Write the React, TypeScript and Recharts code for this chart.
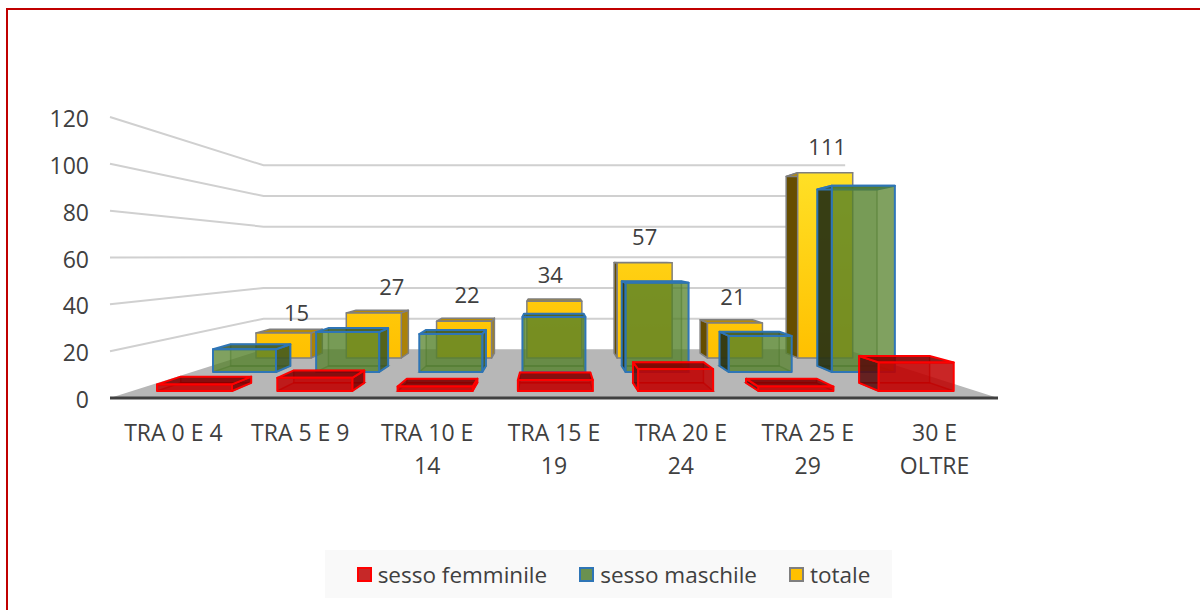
import { BarChart, Bar, XAxis, YAxis, CartesianGrid, LabelList, Legend } from 'recharts'

const categories = ['TRA 0 E 4', 'TRA 5 E 9', 'TRA 10 E 14', 'TRA 15 E 19', 'TRA 20 E 24', 'TRA 25 E 29', '30 E OLTRE']
const femminile = [3, 6, 2, 5, 10, 2, 13]
const maschile = [12, 21, 20, 29, 47, 19, 98]
const totale = [15, 27, 22, 34, 57, 21, 111]
const yTicks = [0, 20, 40, 60, 80, 100, 120]

const chartData = categories.map((name, i) => ({
  name,
  femminile: femminile[i],
  maschile: maschile[i],
  totale: totale[i],
}))

// fake 3D: everything shrinks towards one vanishing point
const VX = 552
const VY = 255
const LEFT = 110
const RIGHT = 998
const TOP = 117
const BOTTOM = 398
const BAR_DEPTH = { red: 0.94, green: 0.948, yellow: 0.953 }
const TEXT = '#404040'
const FONT = '"Open Sans", sans-serif'
const LEGEND_H = 48
const AXIS_SERIES = 'axis'

const project = (x: number, y: number, r: number) => [VX + (x - VX) * r, VY + (y - VY) * r]
// the back wall sits a little off the bars' vanishing point
const projectWall = (x: number, y: number) => [555 + (x - 555) * 0.655, 257 + (y - 257) * 0.655]
const pts = (list: number[][]) => list.map((p) => p.join(',')).join(' ')

// domain that puts value 0 on "base" with the given px per unit
const rowDomain = (base: number, scale: number) => [(base - BOTTOM) / scale, (base - TOP) / scale]

const labelNudgeX = [13, 18, 3, -4, 0, -2, 2]
const labelNudgeY = [6, 0, 0, 0, 0, 0, 0]

const Box = (props: any) => {
  const { x, y, width, height, look, depth } = props
  const x2 = x + width
  const y2 = y + height
  const tl = [x, y]
  const tr = [x2, y]
  const br = [x2, y2]
  const bl = [x, y2]
  const btl = project(x, y, depth)
  const btr = project(x2, y, depth)
  const bbr = project(x2, y2, depth)
  const bbl = project(x, y2, depth)
  const s = { stroke: look.stroke, strokeWidth: look.width, strokeLinejoin: 'round' as const }
  return (
    <g>
      {look.back && <polygon points={pts([btl, btr, bbr, bbl])} fill={look.back} stroke={look.inner} strokeWidth={1.5} />}
      {look.back && <polygon points={pts([bl, br, bbr, bbl])} fill={look.back} stroke={look.inner} strokeWidth={1.5} />}
      {x2 < VX && <polygon points={pts([tr, btr, bbr, br])} fill={look.right} {...s} />}
      {x > VX && <polygon points={pts([tl, btl, bbl, bl])} fill={look.left} {...s} />}
      <polygon points={pts([tl, tr, btr, btl])} fill={look.top} {...s} />
      <polygon points={pts([tl, tr, br, bl])} fill={look.front} {...s} />
    </g>
  )
}

const yellowLook = {
  front: 'url(#yellowFace)', top: '#b58a08', right: '#ab8208', left: '#664d00',
  stroke: '#7f7f7f', width: 1.5,
}
const greenLook = {
  front: 'rgba(84,128,40,0.74)', back: 'rgba(84,130,53,0.2)', inner: 'rgba(60,100,60,0.5)',
  top: 'rgba(50,85,45,0.85)', right: 'rgba(60,85,30,0.85)', left: 'rgba(40,50,20,0.92)',
  stroke: '#2e75b6', width: 2,
}
const redLook = {
  front: 'rgba(192,0,0,0.85)', back: 'rgba(192,0,0,0.3)', inner: 'rgba(200,0,0,0.7)',
  top: 'rgba(125,0,0,0.88)', right: 'rgba(125,0,0,0.88)', left: 'rgba(80,10,10,0.8)',
  stroke: '#ff0000', width: 2,
}

const WallLine = (props: any) => {
  const y = props.y1
  const [bx, by] = projectWall(LEFT, y)
  const [ex] = projectWall(RIGHT, y)
  const isBase = y >= BOTTOM - 1
  if (isBase) {
    return <polygon points={pts([[LEFT, BOTTOM], [bx, by], [ex, by], [RIGHT, BOTTOM]])} fill="#b7b7b7" />
  }
  return <polyline points={pts([[LEFT, y], [bx, by], [ex, by]])} fill="none" stroke="#d0d0d0" strokeWidth={2} />
}

const CategoryTick = ({ x, y, payload }: any) => {
  const words = payload.value.split(' ')
  const lines = payload.value.length > 9
    ? [words.slice(0, -1).join(' '), words[words.length - 1]]
    : [payload.value]
  return (
    <text x={x} y={y} textAnchor="middle" fill={TEXT} fontSize={23} fontFamily={FONT}>
      {lines.map((line: string, i: number) => (
        <tspan key={line} x={x} dy={i === 0 ? 35 : 33}>{line}</tspan>
      ))}
    </text>
  )
}

const TotalLabel = ({ x, y, width, value, index }: any) => (
  <text x={x + width / 2 + labelNudgeX[index]} y={y - 18 + labelNudgeY[index]} textAnchor="middle" fill={TEXT} fontSize={22} fontFamily={FONT}>
    {value}
  </text>
)

const LegendBox = ({ payload }: any) => (
  <div style={{ display: 'flex', alignItems: 'center', justifyContent: 'center', gap: 32, height: LEGEND_H, paddingLeft: 10, boxSizing: 'border-box', background: '#f9f9f9', fontFamily: FONT, fontSize: 22.5, color: TEXT, whiteSpace: 'nowrap' }}>
    {(payload || []).filter((p: any) => p.value !== AXIS_SERIES).map((p: any) => (
      <span key={p.value} style={{ display: 'flex', alignItems: 'center', gap: 6 }}>
        <span style={{ width: 11, height: 11, background: p.color, border: `2px solid ${p.payload.stroke}`, display: 'inline-block' }} />
        {p.value}
      </span>
    ))}
  </div>
)

export default function App() {
  return (
    <div style={{ position: 'absolute', left: 0, top: 0, width: 1200, height: 610, background: '#fff', overflow: 'hidden' }}>
      {/* frame runs off the right and bottom of the picture */}
      <div style={{ position: 'absolute', left: 6, top: 8, width: 1300, height: 700, border: '2px solid #c00000' }} />
      <BarChart
        width={1200}
        height={610}
        data={chartData}
        margin={{ top: TOP, right: 1200 - RIGHT, bottom: 0, left: 0 }}
        style={{ position: 'absolute', left: 0, top: 0 }}
      >
        <defs>
          <linearGradient id="yellowFace" gradientUnits="userSpaceOnUse" x1="0" y1="172" x2="0" y2="358">
            <stop offset="0" stopColor="#ffe026" />
            <stop offset="1" stopColor="#ffc000" />
          </linearGradient>
        </defs>
        <CartesianGrid xAxisId="front" yAxisId="front" vertical={false} horizontal={WallLine} horizontalValues={yTicks} />
        <XAxis xAxisId="front" dataKey="name" height={610 - BOTTOM - LEGEND_H} interval={0} tickLine={false} axisLine={{ stroke: TEXT, strokeWidth: 3 }} tick={CategoryTick} />
        <YAxis yAxisId="front" type="number" domain={[0, 120]} ticks={yTicks} interval={0} width={LEFT} axisLine={false} tickLine={false} tickMargin={15} dy={2} tick={{ fill: TEXT, fontSize: 23, fontFamily: FONT }} />

        <XAxis xAxisId="back" dataKey="name" hide height={0} padding={{ left: 128, right: 128 }} />
        <YAxis yAxisId="back" type="number" hide width={0} domain={rowDomain(358, 1.67)} allowDataOverflow />
        <XAxis xAxisId="mid" dataKey="name" hide height={0} padding={{ left: 83, right: 83 }} />
        <YAxis yAxisId="mid" type="number" hide width={0} domain={rowDomain(372, 1.9)} allowDataOverflow />
        <XAxis xAxisId="near" dataKey="name" hide height={0} padding={{ left: 24, right: 22 }} />
        <YAxis yAxisId="near" type="number" hide width={0} domain={rowDomain(391, 2.2)} allowDataOverflow />

        {/* keeps the visible front axes alive, they need a series to get a scale */}
        <Bar dataKey="totale" name={AXIS_SERIES} xAxisId="front" yAxisId="front" legendType="none" fill="none" isAnimationActive={false} shape={() => null} />
        <Bar
          dataKey="totale" name="totale" xAxisId="back" yAxisId="back" barSize={55} fill="#ffc000" stroke="#7f7f7f" isAnimationActive={false}
          shape={(p: any) => <Box {...p} look={yellowLook} depth={BAR_DEPTH.yellow} />}
        >
          <LabelList dataKey="totale" content={TotalLabel} />
        </Bar>
        <Bar
          dataKey="maschile" name="sesso maschile" xAxisId="mid" yAxisId="mid" barSize={63} fill="#6a9150" stroke="#2e75b6" isAnimationActive={false}
          shape={(p: any) => <Box {...p} look={greenLook} depth={BAR_DEPTH.green} />}
        />
        <Bar
          dataKey="femminile" name="sesso femminile" xAxisId="near" yAxisId="near" barSize={75} fill="#c62828" stroke="#ff0000" isAnimationActive={false}
          shape={(p: any) => <Box {...p} look={redLook} depth={BAR_DEPTH.red} />}
        />
        <Legend
          content={LegendBox}
          wrapperStyle={{ position: 'absolute', left: 325, top: 550, width: 567, height: LEGEND_H }}
        />
      </BarChart>
    </div>
  )
}
